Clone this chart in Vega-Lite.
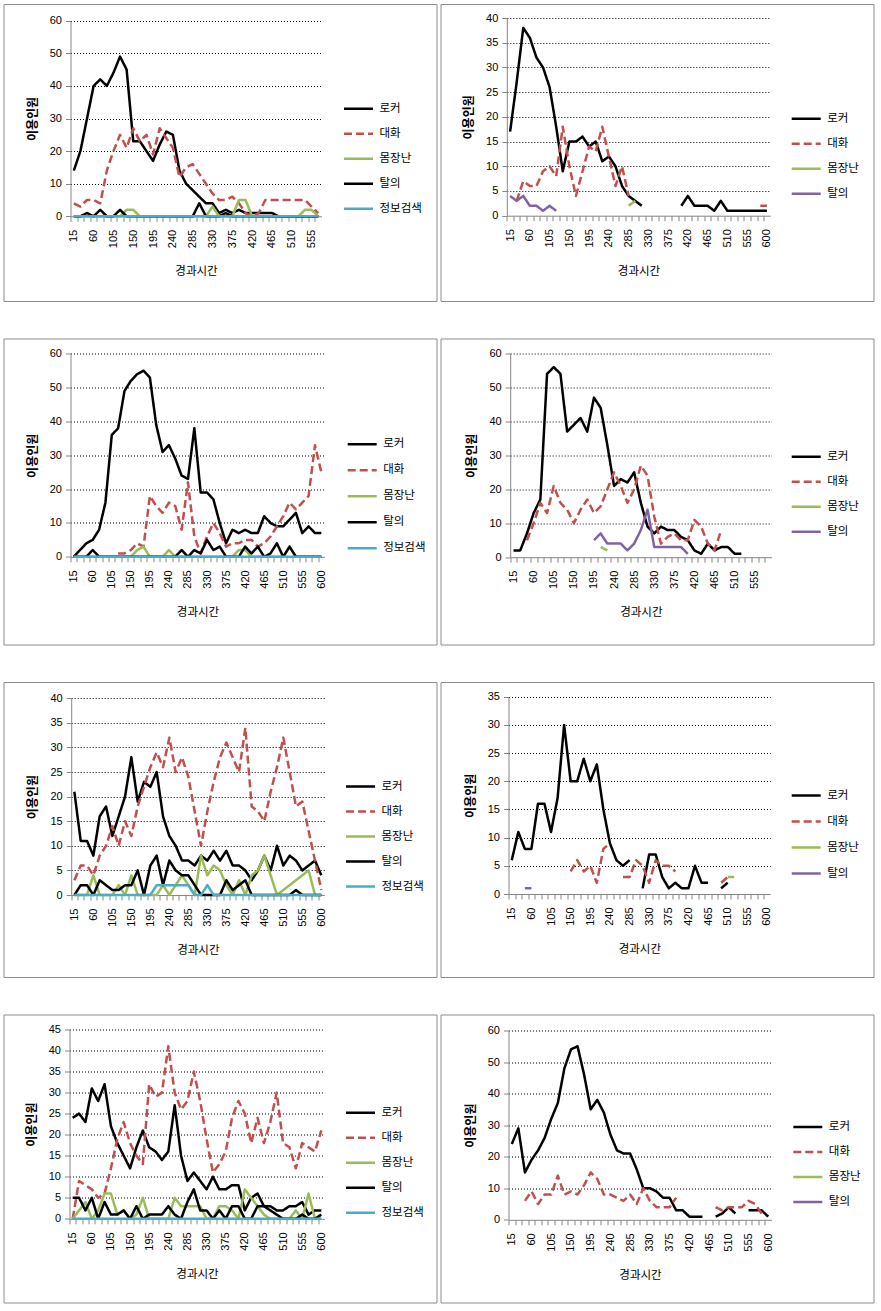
{
"$schema":"https://vega.github.io/schema/vega-lite/v6.json",
"padding":{"left":2.5,"top":3,"right":4,"bottom":3},
"background":"white",
"config":{
 "view":{"stroke":"#8c8c8c","strokeWidth":1,"fill":"white"},
 "axis":{"domainColor":"#868686","tickColor":"#868686","labelColor":"#000","labelFont":"Liberation Sans","labelFontSize":11,"titleFont":"Noto Sans CJK KR","titleColor":"#000","gridDash":[1,2],"gridWidth":1},
 "axisX":{"grid":false,"labelAngle":-90,"tickSize":5,"labelPadding":8,"titleFontSize":11.5,"titleFontWeight":"normal","titlePadding":18},
 "axisY":{"grid":true,"tickSize":5,"labelPadding":4,"titleFontSize":12,"titleFontWeight":"bold","titlePadding":10},
 "legend":{"symbolType":"stroke","symbolStrokeWidth":2.5,"symbolSize":841,"labelFont":"Noto Sans CJK KR","labelFontSize":11.5,"labelColor":"#000","labelOffset":5,"rowPadding":3,"padding":0}
},
"datasets":{
"p1":[
{"t":15,"로커":14,"대화":4,"몸장난":0,"탈의":0,"정보검색":0},
{"t":30,"로커":20,"대화":3,"몸장난":0,"탈의":0,"정보검색":0},
{"t":45,"로커":30,"대화":5,"몸장난":0,"탈의":1,"정보검색":0},
{"t":60,"로커":40,"대화":5,"몸장난":0,"탈의":0,"정보검색":0},
{"t":75,"로커":42,"대화":4,"몸장난":0,"탈의":2,"정보검색":0},
{"t":90,"로커":40,"대화":14,"몸장난":0,"탈의":0,"정보검색":0},
{"t":105,"로커":44,"대화":20,"몸장난":0,"탈의":0,"정보검색":0},
{"t":120,"로커":49,"대화":25,"몸장난":0,"탈의":2,"정보검색":0},
{"t":135,"로커":45,"대화":21,"몸장난":2,"탈의":0,"정보검색":0},
{"t":150,"로커":23,"대화":27,"몸장난":2,"탈의":0,"정보검색":0},
{"t":165,"로커":23,"대화":23,"몸장난":0,"탈의":0,"정보검색":0},
{"t":180,"로커":20,"대화":25,"몸장난":0,"탈의":0,"정보검색":0},
{"t":195,"로커":17,"대화":19,"몸장난":0,"탈의":0,"정보검색":0},
{"t":210,"로커":22,"대화":27,"몸장난":0,"탈의":0,"정보검색":0},
{"t":225,"로커":26,"대화":24,"몸장난":0,"탈의":0,"정보검색":0},
{"t":240,"로커":25,"대화":21,"몸장난":0,"탈의":0,"정보검색":0},
{"t":255,"로커":14,"대화":12,"몸장난":0,"탈의":0,"정보검색":0},
{"t":270,"로커":10,"대화":15,"몸장난":0,"탈의":0,"정보검색":0},
{"t":285,"로커":8,"대화":16,"몸장난":0,"탈의":0,"정보검색":0},
{"t":300,"로커":6,"대화":13,"몸장난":0,"탈의":4,"정보검색":0},
{"t":315,"로커":4,"대화":10,"몸장난":0,"탈의":0,"정보검색":0},
{"t":330,"로커":4,"대화":7,"몸장난":3,"탈의":0,"정보검색":0},
{"t":345,"로커":1,"대화":5,"몸장난":0,"탈의":0,"정보검색":0},
{"t":360,"로커":2,"대화":5,"몸장난":0,"탈의":1,"정보검색":0},
{"t":375,"로커":1,"대화":6,"몸장난":0,"탈의":0,"정보검색":0},
{"t":390,"로커":2,"대화":4,"몸장난":5,"탈의":0,"정보검색":0},
{"t":405,"로커":1,"대화":1,"몸장난":5,"탈의":0,"정보검색":0},
{"t":420,"로커":1,"대화":0,"몸장난":0,"탈의":0,"정보검색":0},
{"t":435,"로커":1,"대화":1,"몸장난":0,"탈의":0,"정보검색":0},
{"t":450,"로커":1,"대화":5,"몸장난":0,"탈의":0,"정보검색":0},
{"t":465,"로커":1,"대화":5,"몸장난":0,"탈의":0,"정보검색":0},
{"t":480,"로커":0,"대화":5,"몸장난":0,"탈의":0,"정보검색":0},
{"t":495,"로커":0,"대화":5,"몸장난":0,"탈의":0,"정보검색":0},
{"t":510,"로커":0,"대화":5,"몸장난":0,"탈의":0,"정보검색":0},
{"t":525,"로커":0,"대화":5,"몸장난":0,"탈의":0,"정보검색":0},
{"t":540,"로커":0,"대화":5,"몸장난":2,"탈의":0,"정보검색":0},
{"t":555,"로커":0,"대화":3,"몸장난":2,"탈의":0,"정보검색":0},
{"t":570,"로커":0,"대화":1,"몸장난":0,"탈의":0,"정보검색":0}
],
"p2":[
{"t":15,"로커":17,"탈의":4},
{"t":30,"로커":27,"대화":3,"탈의":3},
{"t":45,"로커":38,"대화":7,"탈의":4},
{"t":60,"로커":36,"대화":6,"탈의":2},
{"t":75,"로커":32,"대화":6,"탈의":2},
{"t":90,"로커":30,"대화":9,"탈의":1},
{"t":105,"로커":26,"대화":10,"탈의":2},
{"t":120,"로커":18,"대화":8,"탈의":1},
{"t":135,"로커":9,"대화":18},
{"t":150,"로커":15,"대화":10},
{"t":165,"로커":15,"대화":4},
{"t":180,"로커":16,"대화":9},
{"t":195,"로커":14,"대화":14},
{"t":210,"로커":15,"대화":13},
{"t":225,"로커":11,"대화":18},
{"t":240,"로커":12,"대화":12},
{"t":255,"로커":10,"대화":6},
{"t":270,"로커":6,"대화":10},
{"t":285,"로커":4,"대화":4,"몸장난":2},
{"t":300,"로커":3,"몸장난":3},
{"t":315,"로커":2},
{"t":330},{"t":345},{"t":360},{"t":375},{"t":390},
{"t":405,"로커":2},
{"t":420,"로커":4},
{"t":435,"로커":2},
{"t":450,"로커":2},
{"t":465,"로커":2},
{"t":480,"로커":1},
{"t":495,"로커":3},
{"t":510,"로커":1},
{"t":525,"로커":1},
{"t":540,"로커":1},
{"t":555,"로커":1},
{"t":570,"로커":1},
{"t":585,"로커":1,"대화":2},
{"t":600,"로커":1,"대화":2}
],
"p3":[
{"t":15,"로커":0,"몸장난":0,"탈의":0,"정보검색":0},
{"t":30,"로커":2,"몸장난":0,"탈의":0,"정보검색":0},
{"t":45,"로커":4,"몸장난":0,"탈의":0,"정보검색":0},
{"t":60,"로커":5,"몸장난":0,"탈의":2,"정보검색":0},
{"t":75,"로커":8,"몸장난":0,"탈의":0,"정보검색":0},
{"t":90,"로커":16,"몸장난":0,"탈의":0,"정보검색":0},
{"t":105,"로커":36,"몸장난":0,"탈의":0,"정보검색":0},
{"t":120,"로커":38,"대화":1,"몸장난":0,"탈의":0,"정보검색":0},
{"t":135,"로커":49,"대화":1,"몸장난":0,"탈의":0,"정보검색":0},
{"t":150,"로커":52,"대화":2,"몸장난":0,"탈의":0,"정보검색":0},
{"t":165,"로커":54,"대화":4,"몸장난":2,"탈의":0,"정보검색":0},
{"t":180,"로커":55,"대화":3,"몸장난":3,"탈의":0,"정보검색":0},
{"t":195,"로커":53,"대화":18,"몸장난":0,"탈의":0,"정보검색":0},
{"t":210,"로커":39,"대화":15,"몸장난":0,"탈의":0,"정보검색":0},
{"t":225,"로커":31,"대화":13,"몸장난":0,"탈의":0,"정보검색":0},
{"t":240,"로커":33,"대화":16,"몸장난":2,"탈의":0,"정보검색":0},
{"t":255,"로커":29,"대화":15,"몸장난":0,"탈의":0,"정보검색":0},
{"t":270,"로커":24,"대화":8,"몸장난":0,"탈의":2,"정보검색":0},
{"t":285,"로커":23,"대화":22,"몸장난":0,"탈의":0,"정보검색":0},
{"t":300,"로커":38,"대화":6,"몸장난":0,"탈의":2,"정보검색":0},
{"t":315,"로커":19,"대화":1,"몸장난":0,"탈의":1,"정보검색":0},
{"t":330,"로커":19,"대화":6,"몸장난":0,"탈의":5,"정보검색":0},
{"t":345,"로커":17,"대화":10,"몸장난":0,"탈의":2,"정보검색":0},
{"t":360,"로커":10,"대화":7,"몸장난":0,"탈의":3,"정보검색":0},
{"t":375,"로커":4,"대화":3,"몸장난":0,"탈의":0,"정보검색":0},
{"t":390,"로커":8,"대화":4,"몸장난":0,"탈의":0,"정보검색":0},
{"t":405,"로커":7,"대화":4,"몸장난":2,"탈의":0,"정보검색":0},
{"t":420,"로커":8,"대화":5,"몸장난":2,"탈의":3,"정보검색":0},
{"t":435,"로커":7,"대화":5,"몸장난":0,"탈의":1,"정보검색":0},
{"t":450,"로커":7,"대화":3,"몸장난":0,"탈의":3,"정보검색":0},
{"t":465,"로커":12,"대화":4,"몸장난":0,"탈의":0,"정보검색":0},
{"t":480,"로커":10,"대화":6,"몸장난":0,"탈의":1,"정보검색":0},
{"t":495,"로커":9,"대화":9,"몸장난":0,"탈의":4,"정보검색":0},
{"t":510,"로커":9,"대화":12,"몸장난":0,"탈의":0,"정보검색":0},
{"t":525,"로커":11,"대화":16,"몸장난":3,"탈의":3,"정보검색":0},
{"t":540,"로커":13,"대화":14,"몸장난":0,"탈의":0,"정보검색":0},
{"t":555,"로커":7,"대화":16,"몸장난":0,"탈의":0,"정보검색":0},
{"t":570,"로커":9,"대화":18,"몸장난":0,"탈의":0,"정보검색":0},
{"t":585,"로커":7,"대화":33,"몸장난":0,"탈의":0,"정보검색":0},
{"t":600,"로커":7,"대화":25,"몸장난":0,"탈의":0,"정보검색":0}
],
"p4":[
{"t":15,"로커":2},
{"t":30,"로커":2},
{"t":45,"로커":7,"대화":5},
{"t":60,"로커":13,"대화":10},
{"t":75,"로커":17,"대화":16},
{"t":90,"로커":54,"대화":13},
{"t":105,"로커":56,"대화":21},
{"t":120,"로커":54,"대화":16},
{"t":135,"로커":37,"대화":14},
{"t":150,"로커":39,"대화":10},
{"t":165,"로커":41,"대화":14},
{"t":180,"로커":37,"대화":17},
{"t":195,"로커":47,"대화":13,"탈의":5},
{"t":210,"로커":44,"대화":15,"몸장난":3,"탈의":7},
{"t":225,"로커":33,"대화":20,"몸장난":2,"탈의":4},
{"t":240,"로커":21,"대화":25,"탈의":4},
{"t":255,"로커":23,"대화":21,"탈의":4},
{"t":270,"로커":22,"대화":16,"탈의":2},
{"t":285,"로커":25,"대화":20,"탈의":4},
{"t":300,"로커":16,"대화":27,"탈의":8},
{"t":315,"로커":9,"대화":24,"탈의":14},
{"t":330,"로커":7,"대화":12,"탈의":3},
{"t":345,"로커":9,"대화":4,"탈의":3},
{"t":360,"로커":8,"대화":6,"탈의":3},
{"t":375,"로커":8,"대화":7,"탈의":3},
{"t":390,"로커":6,"대화":5,"탈의":3},
{"t":405,"로커":5,"대화":5,"탈의":1},
{"t":420,"로커":2,"대화":11},
{"t":435,"로커":1,"대화":9},
{"t":450,"로커":4,"대화":4},
{"t":465,"로커":2,"대화":2},
{"t":480,"로커":3,"대화":8},
{"t":495,"로커":3},
{"t":510,"로커":1},
{"t":525,"로커":1},
{"t":540},{"t":555},{"t":570},{"t":585}
],
"p5":[
{"t":15,"로커":21,"대화":3,"몸장난":0,"탈의":0,"정보검색":0},
{"t":30,"로커":11,"대화":6,"몸장난":0,"탈의":2,"정보검색":0},
{"t":45,"로커":11,"대화":6,"몸장난":0,"탈의":2,"정보검색":0},
{"t":60,"로커":8,"대화":4,"몸장난":4,"탈의":0,"정보검색":0},
{"t":75,"로커":16,"대화":8,"몸장난":0,"탈의":3,"정보검색":0},
{"t":90,"로커":18,"대화":10,"몸장난":0,"탈의":2,"정보검색":0},
{"t":105,"로커":12,"대화":14,"몸장난":0,"탈의":1,"정보검색":0},
{"t":120,"로커":16,"대화":10,"몸장난":2,"탈의":1,"정보검색":0},
{"t":135,"로커":20,"대화":15,"몸장난":0,"탈의":2,"정보검색":0},
{"t":150,"로커":28,"대화":12,"몸장난":4,"탈의":2,"정보검색":0},
{"t":165,"로커":19,"대화":18,"몸장난":0,"탈의":5,"정보검색":0},
{"t":180,"로커":23,"대화":22,"몸장난":0,"탈의":0,"정보검색":0},
{"t":195,"로커":22,"대화":26,"몸장난":0,"탈의":6,"정보검색":0},
{"t":210,"로커":25,"대화":29,"몸장난":0,"탈의":8,"정보검색":2},
{"t":225,"로커":16,"대화":26,"몸장난":2,"탈의":2,"정보검색":2},
{"t":240,"로커":12,"대화":32,"몸장난":0,"탈의":7,"정보검색":2},
{"t":255,"로커":10,"대화":25,"몸장난":2,"탈의":5,"정보검색":2},
{"t":270,"로커":7,"대화":28,"몸장난":4,"탈의":4,"정보검색":2},
{"t":285,"로커":7,"대화":24,"몸장난":2,"탈의":4,"정보검색":2},
{"t":300,"로커":6,"대화":17,"몸장난":0,"탈의":2,"정보검색":0},
{"t":315,"로커":8,"대화":10,"몸장난":8,"탈의":0,"정보검색":0},
{"t":330,"로커":7,"대화":17,"몸장난":4,"탈의":0,"정보검색":2},
{"t":345,"로커":9,"대화":23,"몸장난":6,"탈의":0,"정보검색":0},
{"t":360,"로커":7,"대화":28,"몸장난":5,"탈의":0,"정보검색":0},
{"t":375,"로커":9,"대화":31,"몸장난":2,"탈의":3,"정보검색":0},
{"t":390,"로커":6,"대화":28,"몸장난":0,"탈의":1,"정보검색":0},
{"t":405,"로커":6,"대화":25,"몸장난":3,"탈의":2,"정보검색":0},
{"t":420,"로커":5,"대화":34,"몸장난":0,"탈의":3,"정보검색":0},
{"t":435,"로커":3,"대화":18,"몸장난":4,"탈의":0,"정보검색":0},
{"t":450,"로커":5,"대화":17,"몸장난":5,"탈의":0,"정보검색":0},
{"t":465,"로커":8,"대화":15,"몸장난":8,"탈의":0,"정보검색":0},
{"t":480,"로커":5,"대화":21,"몸장난":4,"탈의":0,"정보검색":0},
{"t":495,"로커":10,"대화":26,"몸장난":0,"탈의":0,"정보검색":0},
{"t":510,"로커":6,"대화":32,"몸장난":1,"탈의":0,"정보검색":0},
{"t":525,"로커":8,"대화":25,"몸장난":2,"탈의":0,"정보검색":0},
{"t":540,"로커":7,"대화":18,"몸장난":3,"탈의":1,"정보검색":0},
{"t":555,"로커":5,"대화":19,"몸장난":4,"탈의":0,"정보검색":0},
{"t":570,"로커":6,"대화":13,"몸장난":5,"탈의":0,"정보검색":0},
{"t":585,"로커":7,"대화":7,"몸장난":0,"탈의":0,"정보검색":0},
{"t":600,"로커":4,"대화":1,"몸장난":0,"탈의":0,"정보검색":0}
],
"p6":[
{"t":15,"로커":6},
{"t":30,"로커":11},
{"t":45,"로커":8,"탈의":1},
{"t":60,"로커":8,"탈의":1},
{"t":75,"로커":16},
{"t":90,"로커":16},
{"t":105,"로커":11},
{"t":120,"로커":17},
{"t":135,"로커":30},
{"t":150,"로커":20,"대화":4},
{"t":165,"로커":20,"대화":6},
{"t":180,"로커":24,"대화":4},
{"t":195,"로커":20,"대화":5},
{"t":210,"로커":23,"대화":2},
{"t":225,"로커":15,"대화":8},
{"t":240,"로커":9,"대화":9},
{"t":255,"로커":6},
{"t":270,"로커":5,"대화":3},
{"t":285,"로커":6,"대화":3},
{"t":300,"대화":6},
{"t":315,"로커":1,"대화":5},
{"t":330,"로커":7,"대화":2},
{"t":345,"로커":7,"대화":6},
{"t":360,"로커":3,"대화":5},
{"t":375,"로커":1,"대화":5},
{"t":390,"로커":2,"대화":4},
{"t":405,"로커":1},
{"t":420,"로커":1},
{"t":435,"로커":5},
{"t":450,"로커":2},
{"t":465,"로커":2},
{"t":480},
{"t":495,"로커":1,"대화":2},
{"t":510,"로커":2,"대화":3,"몸장난":3},
{"t":525,"몸장난":3},
{"t":540},{"t":555},{"t":570},{"t":585},{"t":600}
],
"p7":[
{"t":15,"로커":24,"대화":0,"몸장난":0,"탈의":5,"정보검색":0},
{"t":30,"로커":25,"대화":9,"몸장난":2,"탈의":5,"정보검색":0},
{"t":45,"로커":23,"대화":8,"몸장난":4,"탈의":2,"정보검색":0},
{"t":60,"로커":31,"대화":7,"몸장난":0,"탈의":5,"정보검색":0},
{"t":75,"로커":28,"대화":5,"몸장난":2,"탈의":0,"정보검색":0},
{"t":90,"로커":32,"대화":6,"몸장난":6,"탈의":4,"정보검색":0},
{"t":105,"로커":22,"대화":12,"몸장난":6,"탈의":1,"정보검색":0},
{"t":120,"로커":18,"대화":19,"몸장난":1,"탈의":1,"정보검색":0},
{"t":135,"로커":15,"대화":23,"몸장난":2,"탈의":2,"정보검색":0},
{"t":150,"로커":12,"대화":18,"몸장난":0,"탈의":0,"정보검색":0},
{"t":165,"로커":17,"대화":15,"몸장난":1,"탈의":3,"정보검색":0},
{"t":180,"로커":21,"대화":13,"몸장난":5,"탈의":0,"정보검색":0},
{"t":195,"로커":17,"대화":32,"몸장난":0,"탈의":1,"정보검색":0},
{"t":210,"로커":16,"대화":29,"몸장난":0,"탈의":1,"정보검색":0},
{"t":225,"로커":14,"대화":30,"몸장난":0,"탈의":1,"정보검색":0},
{"t":240,"로커":16,"대화":41,"몸장난":0,"탈의":3,"정보검색":0},
{"t":255,"로커":27,"대화":30,"몸장난":5,"탈의":1,"정보검색":0},
{"t":270,"로커":15,"대화":26,"몸장난":3,"탈의":0,"정보검색":0},
{"t":285,"로커":9,"대화":28,"몸장난":3,"탈의":4,"정보검색":0},
{"t":300,"로커":11,"대화":35,"몸장난":3,"탈의":7,"정보검색":0},
{"t":315,"로커":9,"대화":28,"몸장난":3,"탈의":2,"정보검색":0},
{"t":330,"로커":7,"대화":19,"몸장난":0,"탈의":2,"정보검색":0},
{"t":345,"로커":10,"대화":11,"몸장난":0,"탈의":0,"정보검색":0},
{"t":360,"로커":7,"대화":13,"몸장난":3,"탈의":2,"정보검색":0},
{"t":375,"로커":7,"대화":16,"몸장난":3,"탈의":0,"정보검색":0},
{"t":390,"로커":8,"대화":24,"몸장난":2,"탈의":3,"정보검색":0},
{"t":405,"로커":8,"대화":28,"몸장난":0,"탈의":3,"정보검색":0},
{"t":420,"로커":2,"대화":25,"몸장난":7,"탈의":0,"정보검색":0},
{"t":435,"로커":5,"대화":18,"몸장난":5,"탈의":0,"정보검색":0},
{"t":450,"로커":6,"대화":24,"몸장난":3,"탈의":3,"정보검색":0},
{"t":465,"로커":3,"대화":18,"몸장난":1,"탈의":3,"정보검색":0},
{"t":480,"로커":3,"대화":23,"몸장난":0,"탈의":2,"정보검색":0},
{"t":495,"로커":2,"대화":30,"몸장난":0,"탈의":1,"정보검색":0},
{"t":510,"로커":2,"대화":18,"몸장난":0,"탈의":0,"정보검색":0},
{"t":525,"로커":3,"대화":17,"몸장난":0,"탈의":0,"정보검색":0},
{"t":540,"로커":3,"대화":12,"몸장난":2,"탈의":0,"정보검색":0},
{"t":555,"로커":4,"대화":18,"몸장난":0,"탈의":1,"정보검색":0},
{"t":570,"로커":1,"대화":17,"몸장난":6,"탈의":0,"정보검색":0},
{"t":585,"로커":2,"대화":16,"몸장난":0,"탈의":0,"정보검색":0},
{"t":600,"로커":2,"대화":21,"몸장난":0,"탈의":1,"정보검색":0}
],
"p8":[
{"t":15,"로커":24},
{"t":30,"로커":29},
{"t":45,"로커":15,"대화":6},
{"t":60,"로커":19,"대화":9},
{"t":75,"로커":22,"대화":5},
{"t":90,"로커":26,"대화":8},
{"t":105,"로커":32,"대화":8},
{"t":120,"로커":37,"대화":14},
{"t":135,"로커":48,"대화":8},
{"t":150,"로커":54,"대화":9},
{"t":165,"로커":55,"대화":8},
{"t":180,"로커":46,"대화":11},
{"t":195,"로커":35,"대화":15},
{"t":210,"로커":38,"대화":13},
{"t":225,"로커":34,"대화":8},
{"t":240,"로커":27,"대화":8},
{"t":255,"로커":22,"대화":7},
{"t":270,"로커":21,"대화":6},
{"t":285,"로커":21,"대화":8},
{"t":300,"로커":16,"대화":5},
{"t":315,"로커":10,"대화":10},
{"t":330,"로커":10,"대화":6},
{"t":345,"로커":9,"대화":4},
{"t":360,"로커":7,"대화":4},
{"t":375,"로커":7,"대화":4},
{"t":390,"로커":3,"대화":7},
{"t":405,"로커":3},
{"t":420,"로커":1},
{"t":435,"로커":1},
{"t":450,"로커":1},
{"t":465},
{"t":480,"로커":1,"대화":4},
{"t":495,"로커":2,"대화":3},
{"t":510,"로커":4,"대화":4},
{"t":525,"로커":2,"대화":4},
{"t":540,"대화":4},
{"t":555,"로커":3,"대화":6},
{"t":570,"로커":3,"대화":5},
{"t":585,"로커":3,"대화":2},
{"t":600,"로커":1}
]
},
"vconcat":[
{"hconcat":[
 {"width":433,"height":297,"data":{"name":"p1"},
  "transform":[{"fold":["로커","대화","몸장난","탈의","정보검색"],"as":["s","v"]}],
  "mark":{"type":"line","strokeWidth":2.5,"strokeJoin":"round","invalid":"break-paths-filter-domains"},
  "encoding":{
   "x":{"field":"t","type":"ordinal","title":"경과시간","scale":{"type":"point","domain":[15,30,45,60,75,90,105,120,135,150,165,180,195,210,225,240,255,270,285,300,315,330,345,360,375,390,405,420,435,450,465,480,495,510,525,540,555,570],"range":[67,318],"padding":0.5},
    "axis":{"offset":-84.7,"tickOffset":-3.3,"labelOffset":3.3,"labelExpr":"(datum.value - 15) % 45 == 0 ? datum.label : ''"}},
   "y":{"field":"v","type":"quantitative","title":"이용인원","scale":{"domain":[0,60],"range":[212.3,16.7],"nice":false,"zero":false},
    "axis":{"offset":-67,"values":[0,10,20,30,40,50,60],"gridColor":{"condition":{"test":"datum.value === 0","value":"transparent"},"value":"#000"}}},
   "color":{"field":"s","type":"nominal","scale":{"domain":["로커","대화","몸장난","탈의","정보검색"],"range":["#000000","#C0504D","#9BBB59","#000000","#4BACC6"]},"legend":{"title":null,"orient":"none","legendX":339,"legendY":88.8}},
   "strokeDash":{"field":"s","type":"nominal","scale":{"domain":["로커","대화","몸장난","탈의","정보검색"],"range":[[1,0],[8,4],[1,0],[1,0],[1,0]]},"legend":{"title":null}}
  }},
 {"width":433,"height":297,"data":{"name":"p2"},
  "transform":[{"fold":["로커","대화","몸장난","탈의"],"as":["s","v"]}],
  "mark":{"type":"line","strokeWidth":2.5,"strokeJoin":"round","invalid":"break-paths-filter-domains"},
  "encoding":{
   "x":{"field":"t","type":"ordinal","title":"경과시간","scale":{"type":"point","domain":[15,30,45,60,75,90,105,120,135,150,165,180,195,210,225,240,255,270,285,300,315,330,345,360,375,390,405,420,435,450,465,480,495,510,525,540,555,570,585,600],"range":[66.3,329.7],"padding":0.5},
    "axis":{"offset":-85.3,"tickOffset":-3.3,"labelOffset":3.3,"labelExpr":"(datum.value - 15) % 45 == 0 ? datum.label : ''"}},
   "y":{"field":"v","type":"quantitative","title":"이용인원","scale":{"domain":[0,40],"range":[211.7,14],"nice":false,"zero":false},
    "axis":{"offset":-66.3,"values":[0,5,10,15,20,25,30,35,40],"gridColor":{"condition":{"test":"datum.value === 0","value":"transparent"},"value":"#000"}}},
   "color":{"field":"s","type":"nominal","scale":{"domain":["로커","대화","몸장난","탈의"],"range":["#000000","#C0504D","#9BBB59","#8064A2"]},"legend":{"title":null,"orient":"none","legendX":349.7,"legendY":98.8}},
   "strokeDash":{"field":"s","type":"nominal","scale":{"domain":["로커","대화","몸장난","탈의"],"range":[[1,0],[8,4],[1,0],[1,0]]},"legend":{"title":null}}
  }}
 ],"spacing":2,"resolve":{"scale":{"color":"independent","strokeDash":"independent"},"legend":{"color":"independent","strokeDash":"independent"}}},
{"hconcat":[
 {"width":433,"height":306,"data":{"name":"p3"},
  "transform":[{"fold":["로커","대화","몸장난","탈의","정보검색"],"as":["s","v"]}],
  "mark":{"type":"line","strokeWidth":2.5,"strokeJoin":"round","invalid":"break-paths-filter-domains"},
  "encoding":{
   "x":{"field":"t","type":"ordinal","title":"경과시간","scale":{"type":"point","domain":[15,30,45,60,75,90,105,120,135,150,165,180,195,210,225,240,255,270,285,300,315,330,345,360,375,390,405,420,435,450,465,480,495,510,525,540,555,570,585,600],"range":[67,321],"padding":0.5},
    "axis":{"offset":-87.7,"tickOffset":-3.2,"labelOffset":3.2,"labelExpr":"(datum.value - 15) % 45 == 0 ? datum.label : ''"}},
   "y":{"field":"v","type":"quantitative","title":"이용인원","scale":{"domain":[0,60],"range":[218.3,15.3],"nice":false,"zero":false},
    "axis":{"offset":-67,"values":[0,10,20,30,40,50,60],"gridColor":{"condition":{"test":"datum.value === 0","value":"transparent"},"value":"#000"}}},
   "color":{"field":"s","type":"nominal","scale":{"domain":["로커","대화","몸장난","탈의","정보검색"],"range":["#000000","#C0504D","#9BBB59","#000000","#4BACC6"]},"legend":{"title":null,"orient":"none","legendX":342.7,"legendY":89.8,"rowPadding":4}},
   "strokeDash":{"field":"s","type":"nominal","scale":{"domain":["로커","대화","몸장난","탈의","정보검색"],"range":[[1,0],[8,4],[1,0],[1,0],[1,0]]},"legend":{"title":null}}
  }},
 {"width":433,"height":306,"data":{"name":"p4"},
  "transform":[{"fold":["로커","대화","몸장난","탈의"],"as":["s","v"]}],
  "mark":{"type":"line","strokeWidth":2.5,"strokeJoin":"round","invalid":"break-paths-filter-domains"},
  "encoding":{
   "x":{"field":"t","type":"ordinal","title":"경과시간","scale":{"type":"point","domain":[15,30,45,60,75,90,105,120,135,150,165,180,195,210,225,240,255,270,285,300,315,330,345,360,375,390,405,420,435,450,465,480,495,510,525,540,555,570,585],"range":[69.7,331],"padding":0.5},
    "axis":{"offset":-87.3,"tickOffset":-3.35,"labelOffset":3.35,"labelExpr":"(datum.value - 15) % 45 == 0 ? datum.label : ''"}},
   "y":{"field":"v","type":"quantitative","title":"이용인원","scale":{"domain":[0,60],"range":[218.7,15],"nice":false,"zero":false},
    "axis":{"offset":-69.7,"values":[0,10,20,30,40,50,60],"gridColor":{"condition":{"test":"datum.value === 0","value":"transparent"},"value":"#000"}}},
   "color":{"field":"s","type":"nominal","scale":{"domain":["로커","대화","몸장난","탈의"],"range":["#000000","#C0504D","#9BBB59","#8064A2"]},"legend":{"title":null,"orient":"none","legendX":349.7,"legendY":102.2}},
   "strokeDash":{"field":"s","type":"nominal","scale":{"domain":["로커","대화","몸장난","탈의"],"range":[[1,0],[8,4],[1,0],[1,0]]},"legend":{"title":null}}
  }}
 ],"spacing":2,"resolve":{"scale":{"color":"independent","strokeDash":"independent"},"legend":{"color":"independent","strokeDash":"independent"}}},
{"hconcat":[
 {"width":433,"height":295,"data":{"name":"p5"},
  "transform":[{"fold":["로커","대화","몸장난","탈의","정보검색"],"as":["s","v"]}],
  "mark":{"type":"line","strokeWidth":2.5,"strokeJoin":"round","invalid":"break-paths-filter-domains"},
  "encoding":{
   "x":{"field":"t","type":"ordinal","title":"경과시간","scale":{"type":"point","domain":[15,30,45,60,75,90,105,120,135,150,165,180,195,210,225,240,255,270,285,300,315,330,345,360,375,390,405,420,435,450,465,480,495,510,525,540,555,570,585,600],"range":[67.7,321],"padding":0.5},
    "axis":{"offset":-82,"tickOffset":-3.2,"labelOffset":3.2,"labelExpr":"(datum.value - 15) % 45 == 0 ? datum.label : ''"}},
   "y":{"field":"v","type":"quantitative","title":"이용인원","scale":{"domain":[0,40],"range":[213,16.3],"nice":false,"zero":false},
    "axis":{"offset":-67.7,"values":[0,5,10,15,20,25,30,35,40],"gridColor":{"condition":{"test":"datum.value === 0","value":"transparent"},"value":"#000"}}},
   "color":{"field":"s","type":"nominal","scale":{"domain":["로커","대화","몸장난","탈의","정보검색"],"range":["#000000","#C0504D","#9BBB59","#000000","#4BACC6"]},"legend":{"title":null,"orient":"none","legendX":341,"legendY":88.5}},
   "strokeDash":{"field":"s","type":"nominal","scale":{"domain":["로커","대화","몸장난","탈의","정보검색"],"range":[[1,0],[8,4],[1,0],[1,0],[1,0]]},"legend":{"title":null}}
  }},
 {"width":433,"height":295,"data":{"name":"p6"},
  "transform":[{"fold":["로커","대화","몸장난","탈의"],"as":["s","v"]}],
  "mark":{"type":"line","strokeWidth":2.5,"strokeJoin":"round","invalid":"break-paths-filter-domains"},
  "encoding":{
   "x":{"field":"t","type":"ordinal","title":"경과시간","scale":{"type":"point","domain":[15,30,45,60,75,90,105,120,135,150,165,180,195,210,225,240,255,270,285,300,315,330,345,360,375,390,405,420,435,450,465,480,495,510,525,540,555,570,585,600],"range":[68,329.7],"padding":0.5},
    "axis":{"offset":-83,"tickOffset":-3.27,"labelOffset":3.27,"labelExpr":"(datum.value - 15) % 45 == 0 ? datum.label : ''"}},
   "y":{"field":"v","type":"quantitative","title":"이용인원","scale":{"domain":[0,35],"range":[212,14.7],"nice":false,"zero":false},
    "axis":{"offset":-68,"values":[0,5,10,15,20,25,30,35],"gridColor":{"condition":{"test":"datum.value === 0","value":"transparent"},"value":"#000"}}},
   "color":{"field":"s","type":"nominal","scale":{"domain":["로커","대화","몸장난","탈의"],"range":["#000000","#C0504D","#9BBB59","#8064A2"]},"legend":{"title":null,"orient":"none","legendX":349.7,"legendY":97.5,"rowPadding":4}},
   "strokeDash":{"field":"s","type":"nominal","scale":{"domain":["로커","대화","몸장난","탈의"],"range":[[1,0],[8,4],[1,0],[1,0]]},"legend":{"title":null}}
  }}
 ],"spacing":2,"resolve":{"scale":{"color":"independent","strokeDash":"independent"},"legend":{"color":"independent","strokeDash":"independent"}}},
{"hconcat":[
 {"width":433,"height":288,"data":{"name":"p7"},
  "transform":[{"fold":["로커","대화","몸장난","탈의","정보검색"],"as":["s","v"]}],
  "mark":{"type":"line","strokeWidth":2.5,"strokeJoin":"round","invalid":"break-paths-filter-domains"},
  "encoding":{
   "x":{"field":"t","type":"ordinal","title":"경과시간","scale":{"type":"point","domain":[15,30,45,60,75,90,105,120,135,150,165,180,195,210,225,240,255,270,285,300,315,330,345,360,375,390,405,420,435,450,465,480,495,510,525,540,555,570,585,600],"range":[66,321],"padding":0.5},
    "axis":{"offset":-83.7,"tickOffset":-3.2,"labelOffset":3.2,"labelExpr":"(datum.value - 15) % 45 == 0 ? datum.label : ''"}},
   "y":{"field":"v","type":"quantitative","title":"이용인원","scale":{"domain":[0,45],"range":[204.3,15],"nice":false,"zero":false},
    "axis":{"offset":-66,"values":[0,5,10,15,20,25,30,35,40,45],"gridColor":{"condition":{"test":"datum.value === 0","value":"transparent"},"value":"#000"}}},
   "color":{"field":"s","type":"nominal","scale":{"domain":["로커","대화","몸장난","탈의","정보검색"],"range":["#000000","#C0504D","#9BBB59","#000000","#4BACC6"]},"legend":{"title":null,"orient":"none","legendX":341,"legendY":82.2}},
   "strokeDash":{"field":"s","type":"nominal","scale":{"domain":["로커","대화","몸장난","탈의","정보검색"],"range":[[1,0],[8,4],[1,0],[1,0],[1,0]]},"legend":{"title":null}}
  }},
 {"width":433,"height":288,"data":{"name":"p8"},
  "transform":[{"fold":["로커","대화","몸장난","탈의"],"as":["s","v"]}],
  "mark":{"type":"line","strokeWidth":2.5,"strokeJoin":"round","invalid":"break-paths-filter-domains"},
  "encoding":{
   "x":{"field":"t","type":"ordinal","title":"경과시간","scale":{"type":"point","domain":[15,30,45,60,75,90,105,120,135,150,165,180,195,210,225,240,255,270,285,300,315,330,345,360,375,390,405,420,435,450,465,480,495,510,525,540,555,570,585,600],"range":[68,331],"padding":0.5},
    "axis":{"offset":-82.7,"tickOffset":-3.3,"labelOffset":3.3,"labelExpr":"(datum.value - 15) % 45 == 0 ? datum.label : ''"}},
   "y":{"field":"v","type":"quantitative","title":"이용인원","scale":{"domain":[0,60],"range":[205.3,16],"nice":false,"zero":false},
    "axis":{"offset":-68,"values":[0,10,20,30,40,50,60],"gridColor":{"condition":{"test":"datum.value === 0","value":"transparent"},"value":"#000"}}},
   "color":{"field":"s","type":"nominal","scale":{"domain":["로커","대화","몸장난","탈의"],"range":["#000000","#C0504D","#9BBB59","#8064A2"]},"legend":{"title":null,"orient":"none","legendX":351.3,"legendY":96.5}},
   "strokeDash":{"field":"s","type":"nominal","scale":{"domain":["로커","대화","몸장난","탈의"],"range":[[1,0],[8,4],[1,0],[1,0]]},"legend":{"title":null}}
  }}
 ],"spacing":2,"resolve":{"scale":{"color":"independent","strokeDash":"independent"},"legend":{"color":"independent","strokeDash":"independent"}}}
],
"spacing":35.5,
"resolve":{"scale":{"color":"independent","strokeDash":"independent"},"legend":{"color":"independent","strokeDash":"independent"}}
}
